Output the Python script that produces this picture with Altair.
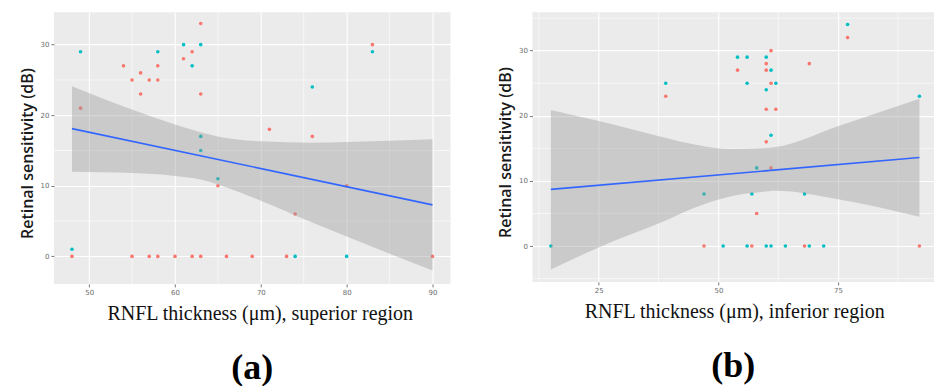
import altair as alt
import pandas as pd

# ---- Panel (a): superior region ----
a_x = [48, 48, 49, 49, 54, 55, 56, 56, 57, 58, 58, 58, 55, 57, 58, 60, 61, 61, 62, 62, 62,
       63, 63, 63, 63, 63, 63, 65, 65, 66, 69, 71, 73, 74, 74, 76, 76, 80, 80, 83, 83, 90]
a_y = [1, 0, 29, 21, 27, 25, 26, 23, 25, 27, 25, 29, 0, 0, 0, 0, 28, 30, 29, 27, 0,
       33, 30, 23, 17, 15, 0, 11, 10, 0, 0, 18, 0, 6, 0, 24, 17, 10, 0, 30, 29, 0]
a_g = [1, 0, 1, 0, 0, 0, 0, 0, 0, 0, 0, 1, 0, 0, 0, 0, 0, 1, 0, 1, 0,
       0, 1, 0, 1, 1, 0, 1, 0, 0, 0, 0, 0, 0, 1, 1, 0, 0, 1, 0, 1, 0]
# fitted line and 95% band
a_fit_x = [48, 90]
a_fit_y = [18.1, 7.3]
a_band_x = [48, 55, 60, 63, 65, 70, 76, 80, 90]
a_band_hi = [24.1, 20.8, 18.7, 17.6, 17.0, 16.3, 16.1, 16.2, 16.6]
a_band_lo = [12.0, 11.8, 11.4, 10.9, 10.2, 7.9, 4.8, 2.8, -2.0]

# ---- Panel (b): inferior region ----
b_x = [15, 39, 39, 47, 47, 51, 54, 54, 56, 56, 56, 57, 57, 58, 58, 60, 60, 60, 60, 60, 60, 60,
       61, 61, 61, 61, 61, 61, 62, 62, 64, 68, 68, 69, 69, 72, 77, 77, 92, 92]
b_y = [0, 25, 23, 8, 0, 0, 29, 27, 29, 25, 0, 0, 8, 5, 12, 29, 28, 27, 24, 21, 16, 0,
       30, 27, 25, 17, 12, 0, 25, 21, 0, 0, 8, 28, 0, 0, 34, 32, 23, 0]
b_g = [1, 1, 0, 1, 0, 1, 1, 0, 1, 1, 1, 0, 1, 0, 1, 1, 0, 0, 1, 0, 0, 1,
       0, 1, 0, 1, 0, 1, 1, 0, 1, 0, 1, 0, 1, 1, 1, 0, 1, 0]
b_fit_x = [15, 92]
b_fit_y = [8.7, 13.6]
b_band_x = [15, 25, 38, 45, 53, 59, 62, 75, 92]
b_band_hi = [20.9, 19.2, 16.8, 15.6, 14.9, 15.0, 15.2, 18.4, 22.6]
b_band_lo = [-3.6, -0.2, 3.6, 5.9, 7.7, 8.3, 8.5, 7.2, 4.5]

y_ticks = [0, 10, 20, 30]
a_xticks = [50, 60, 70, 80, 90]
b_xticks = [25, 50, 75]
a_xminor = [55, 65, 75, 85]
a_yminor = [5, 15, 25]
b_xminor = [12.5, 37.5, 62.5, 87.5]
b_yminor = [-5, 5, 15, 25, 35]

Y_TITLE = "Retinal sensitivity (dB)"
A_XTITLE = "RNFL thickness (\u03bcm), superior region"
B_XTITLE = "RNFL thickness (\u03bcm), inferior region"

RED, CYAN = "#F8766D", "#00BFC4"


def panel(xv, yv, gv, fx, fy, bx, bhi, blo, xdom, ydom, xticks, xminor, yminor,
          xtitle, label, w, h, ytitle_y, xtitle_x):
    pts = pd.DataFrame({"x": xv, "y": yv, "g": gv})
    fit = pd.DataFrame({"x": fx, "fit": fy})
    band = pd.DataFrame({"x": bx, "lo": blo, "hi": bhi})
    xs = alt.Scale(domain=xdom, nice=False, zero=False)
    ys = alt.Scale(domain=ydom, nice=False, zero=False)
    xaxis = alt.Axis(values=xticks, title=xtitle, titleX=xtitle_x)
    yaxis = alt.Axis(values=y_ticks, title=Y_TITLE, titleY=ytitle_y)

    gx = alt.Chart(pd.DataFrame({"v": xminor})).mark_rule(color="white", strokeWidth=0.6).encode(
        x=alt.X("v:Q", scale=xs, axis=xaxis))
    gy = alt.Chart(pd.DataFrame({"v": yminor})).mark_rule(color="white", strokeWidth=0.6).encode(
        y=alt.Y("v:Q", scale=ys, axis=yaxis))
    dots = alt.Chart(pts).mark_circle(size=13, opacity=1).encode(
        x=alt.X("x:Q", scale=xs, axis=xaxis),
        y=alt.Y("y:Q", scale=ys, axis=yaxis),
        color=alt.Color("g:N", scale=alt.Scale(domain=[0, 1], range=[RED, CYAN]), legend=None))
    rib = alt.Chart(band).mark_area(color="#999999", opacity=0.4, interpolate="monotone").encode(
        x=alt.X("x:Q", scale=xs, axis=xaxis),
        y=alt.Y("lo:Q", scale=ys, axis=yaxis), y2="hi:Q")
    line = alt.Chart(fit).mark_line(color="#3366FF", strokeWidth=1.6).encode(
        x=alt.X("x:Q", scale=xs, axis=xaxis),
        y=alt.Y("fit:Q", scale=ys, axis=yaxis))
    return alt.layer(gx, gy, dots, rib, line).properties(
        width=w, height=h,
        title=alt.TitleParams(label, orient="bottom", font="Liberation Serif", fontSize=36,
                              fontWeight="bold", color="#000000", offset=27, anchor="middle"))


pa = panel(a_x, a_y, a_g, a_fit_x, a_fit_y, a_band_x, a_band_hi, a_band_lo,
           [45.9, 92.1], [-3.9, 34.6], a_xticks, a_xminor, a_yminor,
           A_XTITLE, "(a)", 397, 272, 141, 206)
pb = panel(b_x, b_y, b_g, b_fit_x, b_fit_y, b_band_x, b_band_hi, b_band_lo,
           [11.15, 95.05], [-5.5, 35.9], b_xticks, b_xminor, b_yminor,
           B_XTITLE, "(b)", 402, 270, 140, 202)

chart = alt.hconcat(pa, pb, spacing=46).properties(
    padding={"left": 19, "top": 11, "right": 0, "bottom": 0}
).configure(background="white").configure_view(fill="#EBEBEB", stroke=None).configure_axis(
    grid=True, gridColor="white", gridWidth=1.1, domain=False,
    tickColor="#555555", tickSize=3, tickWidth=0.8,
    labelFontSize=7, labelColor="#6E6E6E", labelPadding=2, labelFont="DejaVu Sans",
).configure_axisY(
    titleFont="Open Sans", titleFontSize=16, titleFontWeight=600, titleColor="#1A1A1A",
    titlePadding=5,
).configure_axisX(
    titleFont="Liberation Serif", titleFontSize=20, titleFontWeight="normal", titleColor="#111111",
    titlePadding=8,
)

chart.save("out.html", embed_options={"renderer": "svg", "actions": False})
